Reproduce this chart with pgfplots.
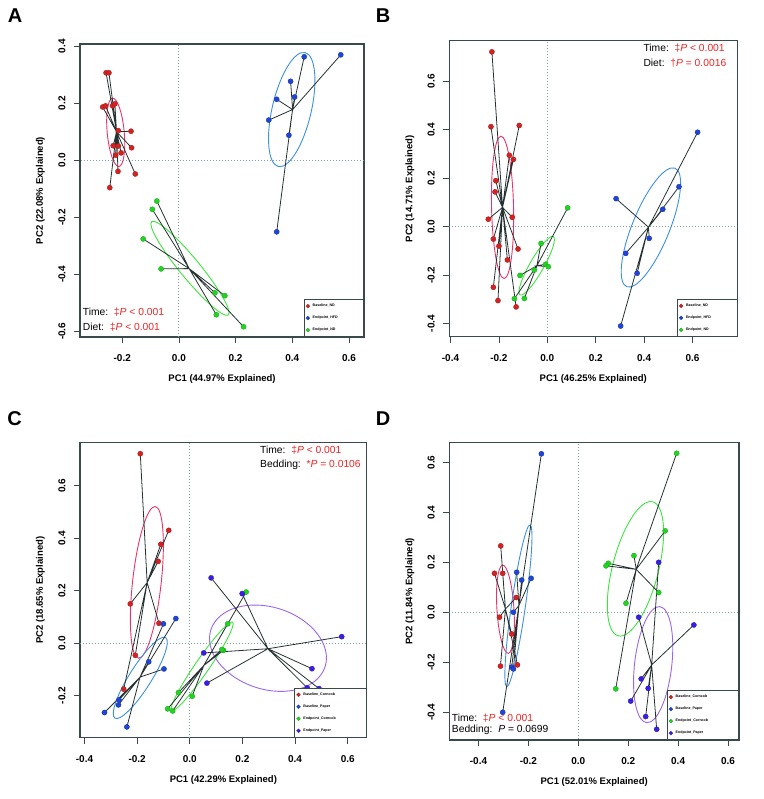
\documentclass[border=0pt]{standalone}
\usepackage{fontspec}
\setmainfont{Liberation Sans}[BoldFont={Liberation Sans Bold}, ItalicFont={Liberation Sans Italic}, BoldItalicFont={Liberation Sans Bold Italic}]
\usepackage{pgfplots}
\pgfplotsset{compat=1.18}
\definecolor{cRed}{HTML}{D42222}
\definecolor{cBlue}{HTML}{1E44D8}
\definecolor{cGreen}{HTML}{22D422}
\definecolor{cPurp}{HTML}{3A1EE4}
\definecolor{eRed}{HTML}{E8346A}
\definecolor{eBlue}{HTML}{3C90E0}
\definecolor{eGreen}{HTML}{3EE43E}
\definecolor{ePurp}{HTML}{9A66EE}
\definecolor{frame}{HTML}{3A4A4B}
\definecolor{spid}{HTML}{263232}
\definecolor{dotl}{HTML}{7FA3A3}
\definecolor{pred}{HTML}{F02424}
\newcommand{\pcaell}[6]{\draw[#1, line width=0.9pt, rotate around={#4:(axis cs:#2,#3)}] (axis cs:#2,#3) ellipse [x radius=#5pt, y radius=#6pt];}
\pgfplotsset{
 pca/.style={
  scale only axis, clip=true,
  axis line style={draw=frame, line width=1.2pt},
  xtick pos=left, ytick pos=left,
  tick align=outside, major tick length=6pt,
  tick style={draw=frame, line width=0.8pt},
  minor tick num=0,
  xticklabel style={font=\fontsize{10}{12}\selectfont\bfseries, anchor=north, yshift=-8pt},
  yticklabel style={font=\fontsize{10}{12}\selectfont\bfseries, rotate=90, anchor=south},
  yticklabel shift=5pt,
  every axis x label/.style={at={([yshift=-42pt]axis description cs:0.5,0)}, anchor=center, font=\fontsize{9.5}{11}\selectfont\bfseries},
  every axis y label/.style={at={([xshift=-39.5pt]axis description cs:0,0.5)}, anchor=center, rotate=90, font=\fontsize{9.5}{11}\selectfont\bfseries},
  legend cell align=left,
  legend style={at={(1,0)}, anchor=south east, draw=frame, line width=0.6pt, fill=white,
    font=\fontsize{3.6}{4}\selectfont\bfseries, inner xsep=2pt, inner ysep=2.5pt,
    /tikz/row sep=3.9pt, /tikz/column sep=1pt},
 },
 pts/.style={only marks, mark=*, mark size=2.6pt, color=#1,
   mark options={fill=#1, draw=#1!75!black, line width=0.3pt},
   legend image code/.code={\draw[mark=*, mark size=1.9pt, mark options={fill=#1, draw=#1!75!black, line width=0.3pt}] plot coordinates {(4pt,0pt)};}},
 spider/.style={spid, line width=0.8pt, forget plot},
 zline/.style={dotl, line width=0.9pt, dash pattern=on 1pt off 2pt, forget plot},
}
\newcommand{\stat}[1]{\fontsize{10.3}{12}\selectfont #1}
\begin{document}
\begin{tikzpicture}
\useasboundingbox (0pt,0pt) rectangle (763pt,-799pt);
% ---------------- A ----------------
\begin{axis}[pca, at={(80pt,-44pt)}, anchor=north west, width=284pt, height=293pt,
 xmin=-0.349, xmax=0.653, ymin=-0.620, ymax=0.408,
 xtick={-0.2,0,0.2,0.4,0.6}, xticklabels={-0.2,0.0,0.2,0.4,0.6},
 ytick={-0.6,-0.4,-0.2,0,0.2,0.4}, yticklabels={-0.6,-0.4,-0.2,0.0,0.2,0.4},
 xlabel={\textbf{PC1 (44.97\% Explained)}}, ylabel={\textbf{PC2 (22.08\% Explained)}}]
\addplot[zline] coordinates {(0,-1)(0,1)};
\addplot[zline] coordinates {(-1,0)(1,0)};
\pcaell{eRed}{-0.223}{0.098}{95.3}{34.3}{8.5}
\pcaell{eBlue}{0.398}{0.178}{76.8}{58.5}{19.5}
\pcaell{eGreen}{0.039}{-0.379}{-50.6}{60.4}{10}
\addplot[spider] coordinates {(-0.220,0.100)(-0.257,0.307)(-0.220,0.100)(-0.247,0.307)(-0.220,0.100)(-0.269,0.187)(-0.220,0.100)(-0.259,0.191)(-0.220,0.100)(-0.234,0.191)(-0.220,0.100)(-0.226,0.198)(-0.220,0.100)(-0.214,0.104)(-0.220,0.100)(-0.169,0.102)(-0.220,0.100)(-0.232,0.051)(-0.220,0.100)(-0.214,0.050)(-0.220,0.100)(-0.223,0.018)(-0.220,0.100)(-0.204,0.026)(-0.220,0.100)(-0.167,0.044)(-0.220,0.100)(-0.215,-0.039)(-0.220,0.100)(-0.154,-0.048)(-0.220,0.100)(-0.244,-0.096)};
\addplot[spider] coordinates {(0.401,0.178)(0.317,0.141)(0.401,0.178)(0.345,0.214)(0.401,0.178)(0.394,0.277)(0.401,0.178)(0.408,0.222)(0.401,0.178)(0.442,0.363)(0.401,0.178)(0.571,0.370)(0.401,0.178)(0.388,0.088)(0.401,0.178)(0.345,-0.251)};
\addplot[spider] coordinates {(0.036,-0.380)(-0.078,-0.143)(0.036,-0.380)(-0.094,-0.172)(0.036,-0.380)(-0.126,-0.276)(0.036,-0.380)(-0.063,-0.381)(0.036,-0.380)(0.127,-0.465)(0.036,-0.380)(0.162,-0.475)(0.036,-0.380)(0.132,-0.542)(0.036,-0.380)(0.228,-0.584)};
\addplot[pts=cRed] coordinates {(-0.257,0.307)(-0.247,0.307)(-0.269,0.187)(-0.259,0.191)(-0.234,0.191)(-0.226,0.198)(-0.214,0.104)(-0.169,0.102)(-0.232,0.051)(-0.214,0.050)(-0.223,0.018)(-0.204,0.026)(-0.167,0.044)(-0.215,-0.039)(-0.154,-0.048)(-0.244,-0.096)};
\addlegendentry{\makebox[47pt][l]{Baseline\_ND}}
\addplot[pts=cBlue] coordinates {(0.317,0.141)(0.345,0.214)(0.394,0.277)(0.408,0.222)(0.442,0.363)(0.571,0.370)(0.388,0.088)(0.345,-0.251)};
\addlegendentry{Endpoint\_HFD}
\addplot[pts=cGreen] coordinates {(-0.078,-0.143)(-0.094,-0.172)(-0.126,-0.276)(-0.063,-0.381)(0.127,-0.465)(0.162,-0.475)(0.132,-0.542)(0.228,-0.584)};
\addlegendentry{Endpoint\_ND}
\end{axis}
% ---------------- B ----------------
\begin{axis}[pca, at={(449.3pt,-40.7pt)}, anchor=north west, width=288pt, height=296pt,
 xmin=-0.405, xmax=0.785, ymin=-0.454, ymax=0.768,
 xtick={-0.4,-0.2,0,0.2,0.4,0.6}, xticklabels={-0.4,-0.2,0.0,0.2,0.4,0.6},
 ytick={-0.4,-0.2,0,0.2,0.4,0.6}, yticklabels={-0.4,-0.2,0.0,0.2,0.4,0.6},
 xlabel={\textbf{PC1 (46.25\% Explained)}}, ylabel={\textbf{PC2 (14.71\% Explained)}}]
\addplot[zline] coordinates {(0,-1)(0,1)};
\addplot[zline] coordinates {(-1,0)(1,0)};
\pcaell{eRed}{-0.185}{0.080}{91.3}{71.2}{11}
\pcaell{eBlue}{0.428}{-0.003}{67.8}{64}{18.6}
\pcaell{eGreen}{-0.044}{-0.161}{60.3}{33.6}{7}
\addplot[spider] coordinates {(-0.185,0.080)(-0.229,0.722)(-0.185,0.080)(-0.233,0.413)(-0.185,0.080)(-0.116,0.418)(-0.185,0.080)(-0.157,0.295)(-0.185,0.080)(-0.140,0.278)(-0.185,0.080)(-0.213,0.190)(-0.185,0.080)(-0.216,0.144)(-0.185,0.080)(-0.244,0.031)(-0.185,0.080)(-0.145,0.039)(-0.185,0.080)(-0.223,-0.051)(-0.185,0.080)(-0.200,-0.080)(-0.185,0.080)(-0.121,-0.092)(-0.185,0.080)(-0.165,-0.137)(-0.185,0.080)(-0.223,-0.250)(-0.185,0.080)(-0.204,-0.305)(-0.185,0.080)(-0.129,-0.331)};
\addplot[spider] coordinates {(0.418,-0.002)(0.621,0.390)(0.418,-0.002)(0.544,0.165)(0.418,-0.002)(0.284,0.116)(0.418,-0.002)(0.477,0.072)(0.418,-0.002)(0.421,-0.048)(0.418,-0.002)(0.324,-0.110)(0.418,-0.002)(0.371,-0.192)(0.418,-0.002)(0.303,-0.410)};
\addplot[spider] coordinates {(-0.043,-0.161)(0.084,0.078)(-0.043,-0.161)(-0.026,-0.069)(-0.043,-0.161)(-0.007,-0.155)(-0.043,-0.161)(0.004,-0.165)(-0.043,-0.161)(-0.054,-0.179)(-0.043,-0.161)(-0.113,-0.201)(-0.043,-0.161)(-0.136,-0.297)(-0.043,-0.161)(-0.095,-0.296)};
\addplot[pts=cRed] coordinates {(-0.229,0.722)(-0.233,0.413)(-0.116,0.418)(-0.157,0.295)(-0.140,0.278)(-0.213,0.190)(-0.216,0.144)(-0.244,0.031)(-0.145,0.039)(-0.223,-0.051)(-0.200,-0.080)(-0.121,-0.092)(-0.165,-0.137)(-0.223,-0.250)(-0.204,-0.305)(-0.129,-0.331)};
\addlegendentry{\makebox[47pt][l]{Baseline\_ND}}
\addplot[pts=cBlue] coordinates {(0.621,0.390)(0.544,0.165)(0.284,0.116)(0.477,0.072)(0.421,-0.048)(0.324,-0.110)(0.371,-0.192)(0.303,-0.410)};
\addlegendentry{Endpoint\_HFD}
\addplot[pts=cGreen] coordinates {(0.084,0.078)(-0.026,-0.069)(-0.007,-0.155)(0.004,-0.165)(-0.054,-0.179)(-0.113,-0.201)(-0.136,-0.297)(-0.095,-0.296)};
\addlegendentry{Endpoint\_ND}
\end{axis}
% ---------------- C ----------------
\begin{axis}[pca, at={(80pt,-442.7pt)}, anchor=north west, width=286.7pt, height=295pt,
 xmin=-0.417, xmax=0.672, ymin=-0.360, ymax=0.764,
 xtick={-0.4,-0.2,0,0.2,0.4,0.6}, xticklabels={-0.4,-0.2,0.0,0.2,0.4,0.6},
 ytick={-0.2,0,0.2,0.4,0.6}, yticklabels={-0.2,0.0,0.2,0.4,0.6},
 xlabel={\textbf{PC1 (42.29\% Explained)}}, ylabel={\textbf{PC2 (18.65\% Explained)}}]
\addplot[zline] coordinates {(0,-1)(0,1)};
\addplot[zline] coordinates {(-1,0)(1,0)};
\pcaell{eRed}{-0.163}{0.232}{83.7}{76.3}{14.3}
\pcaell{eBlue}{-0.188}{-0.132}{57.8}{47.6}{11}
\pcaell{eGreen}{0.047}{-0.088}{55.4}{53.7}{7}
\pcaell{ePurp}{0.297}{-0.019}{-18}{60}{41}
\addplot[spider] coordinates {(-0.162,0.231)(-0.188,0.722)(-0.162,0.231)(-0.080,0.430)(-0.162,0.231)(-0.110,0.377)(-0.162,0.231)(-0.120,0.312)(-0.162,0.231)(-0.226,0.150)(-0.162,0.231)(-0.117,0.076)(-0.162,0.231)(-0.207,-0.046)(-0.162,0.231)(-0.251,-0.175)};
\addplot[spider] coordinates {(-0.189,-0.129)(-0.053,0.094)(-0.189,-0.129)(-0.100,0.074)(-0.189,-0.129)(-0.156,-0.071)(-0.189,-0.129)(-0.098,-0.098)(-0.189,-0.129)(-0.269,-0.216)(-0.189,-0.129)(-0.271,-0.235)(-0.189,-0.129)(-0.324,-0.264)(-0.189,-0.129)(-0.239,-0.319)};
\addplot[spider] coordinates {(0.053,-0.085)(0.214,0.195)(0.053,-0.085)(0.144,0.074)(0.053,-0.085)(0.128,-0.027)(0.053,-0.085)(0.122,-0.024)(0.053,-0.085)(-0.043,-0.188)(0.053,-0.085)(0.009,-0.202)(0.053,-0.085)(-0.084,-0.250)(0.053,-0.085)(-0.065,-0.258)};
\addplot[spider] coordinates {(0.297,-0.021)(0.081,0.249)(0.297,-0.021)(0.199,0.189)(0.297,-0.021)(0.577,0.025)(0.297,-0.021)(0.053,-0.037)(0.297,-0.021)(0.464,-0.097)(0.297,-0.021)(0.065,-0.152)(0.297,-0.021)(0.446,-0.170)(0.297,-0.021)(0.491,-0.173)};
\addplot[pts=cRed] coordinates {(-0.188,0.722)(-0.080,0.430)(-0.110,0.377)(-0.120,0.312)(-0.226,0.150)(-0.117,0.076)(-0.207,-0.046)(-0.251,-0.175)};
\addlegendentry{\makebox[59pt][l]{Baseline\_Corncob}}
\addplot[pts=cBlue] coordinates {(-0.053,0.094)(-0.100,0.074)(-0.156,-0.071)(-0.098,-0.098)(-0.269,-0.216)(-0.271,-0.235)(-0.324,-0.264)(-0.239,-0.319)};
\addlegendentry{Baseline\_Paper}
\addplot[pts=cGreen] coordinates {(0.214,0.195)(0.144,0.074)(0.128,-0.027)(0.122,-0.024)(-0.043,-0.188)(0.009,-0.202)(-0.084,-0.250)(-0.065,-0.258)};
\addlegendentry{Endpoint\_Corncob}
\addplot[pts=cPurp] coordinates {(0.081,0.249)(0.199,0.189)(0.577,0.025)(0.053,-0.037)(0.464,-0.097)(0.065,-0.152)(0.446,-0.170)(0.491,-0.173)};
\addlegendentry{Endpoint\_Paper}
\end{axis}
% ---------------- D ----------------
\begin{axis}[pca, at={(449.3pt,-442.3pt)}, anchor=north west, width=289.7pt, height=297.7pt,
 xmin=-0.517, xmax=0.644, ymin=-0.512, ymax=0.681,
 xtick={-0.4,-0.2,0,0.2,0.4,0.6}, xticklabels={-0.4,-0.2,0.0,0.2,0.4,0.6},
 ytick={-0.4,-0.2,0,0.2,0.4,0.6}, yticklabels={-0.4,-0.2,0.0,0.2,0.4,0.6},
 xlabel={\textbf{PC1 (52.01\% Explained)}}, ylabel={\textbf{PC2 (11.84\% Explained)}}]
\addplot[zline] coordinates {(0,-1)(0,1)};
\addplot[zline] coordinates {(-1,0)(1,0)};
\pcaell{eRed}{-0.292}{0.012}{93.6}{44.2}{8.5}
\pcaell{eBlue}{-0.240}{0.026}{81.8}{81.7}{7}
\pcaell{eGreen}{0.229}{0.174}{75.6}{69.2}{23}
\pcaell{ePurp}{0.300}{-0.210}{83.5}{58.4}{18.6}
\addplot[spider] coordinates {(-0.292,0.013)(-0.311,0.266)(-0.292,0.013)(-0.336,0.156)(-0.292,0.013)(-0.303,0.156)(-0.292,0.013)(-0.249,0.059)(-0.292,0.013)(-0.316,-0.020)(-0.292,0.013)(-0.267,-0.087)(-0.292,0.013)(-0.312,-0.216)(-0.292,0.013)(-0.244,-0.211)};
\addplot[spider] coordinates {(-0.238,0.027)(-0.148,0.635)(-0.238,0.027)(-0.247,0.160)(-0.238,0.027)(-0.189,0.136)(-0.238,0.027)(-0.227,0.129)(-0.238,0.027)(-0.260,0.000)(-0.238,0.027)(-0.267,-0.220)(-0.238,0.027)(-0.260,-0.227)(-0.238,0.027)(-0.303,-0.401)};
\addplot[spider] coordinates {(0.232,0.172)(0.394,0.637)(0.232,0.172)(0.348,0.326)(0.232,0.172)(0.223,0.227)(0.232,0.172)(0.120,0.196)(0.232,0.172)(0.111,0.186)(0.232,0.172)(0.322,0.079)(0.232,0.172)(0.191,0.036)(0.232,0.172)(0.150,-0.307)};
\addplot[spider] coordinates {(0.294,-0.211)(0.322,0.200)(0.294,-0.211)(0.242,-0.020)(0.294,-0.211)(0.463,-0.051)(0.294,-0.211)(0.252,-0.267)(0.294,-0.211)(0.280,-0.305)(0.294,-0.211)(0.210,-0.356)(0.294,-0.211)(0.270,-0.418)(0.294,-0.211)(0.314,-0.469)};
\addplot[pts=cRed] coordinates {(-0.311,0.266)(-0.336,0.156)(-0.303,0.156)(-0.249,0.059)(-0.316,-0.020)(-0.267,-0.087)(-0.312,-0.216)(-0.244,-0.211)};
\addlegendentry{\makebox[59pt][l]{Baseline\_Corncob}}
\addplot[pts=cBlue] coordinates {(-0.148,0.635)(-0.247,0.160)(-0.189,0.136)(-0.227,0.129)(-0.260,0.000)(-0.267,-0.220)(-0.260,-0.227)(-0.303,-0.401)};
\addlegendentry{Baseline\_Paper}
\addplot[pts=cGreen] coordinates {(0.394,0.637)(0.348,0.326)(0.223,0.227)(0.120,0.196)(0.111,0.186)(0.322,0.079)(0.191,0.036)(0.150,-0.307)};
\addlegendentry{Endpoint\_Corncob}
\addplot[pts=cPurp] coordinates {(0.322,0.200)(0.242,-0.020)(0.463,-0.051)(0.252,-0.267)(0.280,-0.305)(0.210,-0.356)(0.270,-0.418)(0.314,-0.469)};
\addlegendentry{Endpoint\_Paper}
\end{axis}
% ---------------- texts ----------------
\node[anchor=west, inner sep=0pt, font=\stat{}] at (82.7pt,-311.7pt) {Time:\ \ \textcolor{pred}{‡\textit{P} < 0.001}};
\node[anchor=west, inner sep=0pt, font=\stat{}] at (82.7pt,-326.7pt) {Diet:\ \ \textcolor{pred}{‡\textit{P} < 0.001}};
\node[anchor=west, inner sep=0pt, font=\stat{}] at (643.3pt,-47.7pt) {Time:\ \ \textcolor{pred}{‡\textit{P} < 0.001}};
\node[anchor=west, inner sep=0pt, font=\stat{}] at (643.3pt,-63.3pt) {Diet:\ \ \textcolor{pred}{†\textit{P} = 0.0016}};
\node[anchor=west, inner sep=0pt, font=\stat{}] at (260pt,-450pt) {Time:\ \ \textcolor{pred}{‡\textit{P} < 0.001}};
\node[anchor=west, inner sep=0pt, font=\stat{}] at (260pt,-465pt) {Bedding:\ \ \textcolor{pred}{*\textit{P} = 0.0106}};
\node[anchor=west, inner sep=0pt, font=\stat{}] at (451.7pt,-717.7pt) {Time:\ \ \textcolor{pred}{‡\textit{P} < 0.001}};
\node[anchor=west, inner sep=0pt, font=\stat{}] at (451.7pt,-730.3pt) {Bedding:\ \ \textit{P} = 0.0699};
\node[font=\fontsize{20}{22}\selectfont\bfseries] at (15pt,-15.8pt) {A};
\node[font=\fontsize{20}{22}\selectfont\bfseries] at (383pt,-15.8pt) {B};
\node[font=\fontsize{20}{22}\selectfont\bfseries] at (14.7pt,-419pt) {C};
\node[font=\fontsize{20}{22}\selectfont\bfseries] at (383pt,-419pt) {D};
\end{tikzpicture}
\end{document}
